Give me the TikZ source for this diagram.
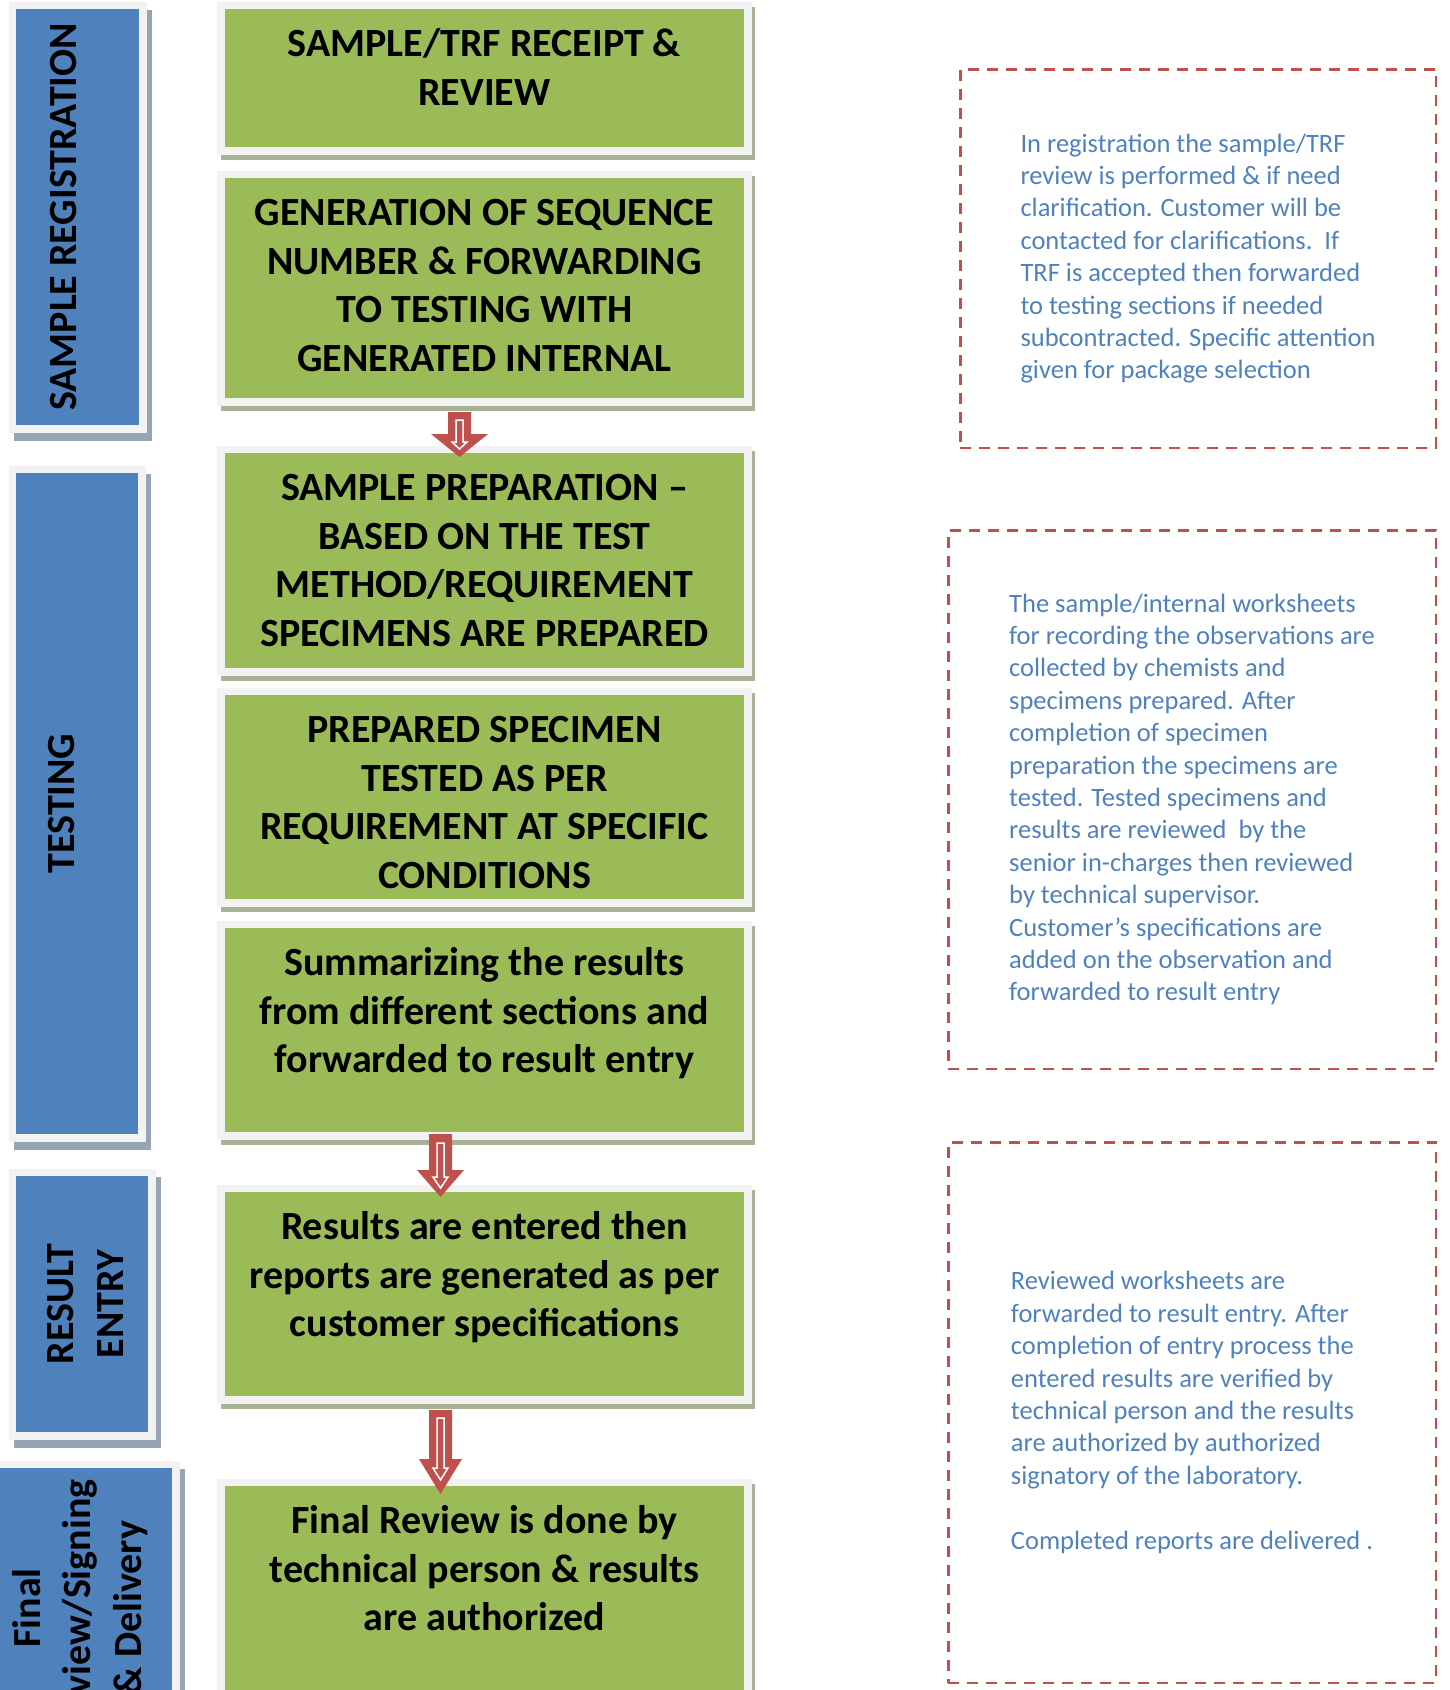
\documentclass[tikz,border=0pt]{standalone}
\usepackage{fontspec}
\setmainfont{Carlito}
\definecolor{stepgreen}{HTML}{9BBB59}
\definecolor{laneblue}{HTML}{4F81BD}
\definecolor{framegray}{HTML}{F2F2F2}
\definecolor{greenshadow}{HTML}{A7B296}
\definecolor{blueshadow}{HTML}{97A4B8}
\definecolor{notered}{HTML}{C0504D}
\definecolor{noteblue}{HTML}{4F81BD}
\tikzset{
  stepbox/.style={rectangle, fill=stepgreen, draw=framegray, line width=7.5pt,
    minimum width=527pt,
    preaction={draw=greenshadow, fill=greenshadow, transform canvas={xshift=3.5pt, yshift=-5pt}}},
  lanebox/.style={rectangle, fill=laneblue, draw=framegray, line width=7.5pt,
    preaction={draw=blueshadow, fill=blueshadow, transform canvas={xshift=5pt, yshift=-8pt}}},
  steptext/.style={align=center, inner sep=0, font=\fontsize{40pt}{48.6pt}\selectfont\bfseries},
  lanetext/.style={align=center, inner sep=0, rotate=90, font=\fontsize{40pt}{50.5pt}\selectfont\bfseries},
  notebox/.style={rectangle, draw=notered, line width=2.5pt, dash pattern=on 11pt off 8pt,
    text=noteblue, align=left, font=\fontsize{26.5pt}{32.4pt}\selectfont},
  flowarrow/.style={fill=notered},
  flowinner/.style={draw=white, line width=1.5pt}
}
\begin{document}
\begin{tikzpicture}[x=1pt, y=-1pt]
  \useasboundingbox (0,0) rectangle (1450,1690);
  \clip (0,0) rectangle (1450,1690);

  % lanes
  \node[lanebox, minimum width=130.5pt, minimum height=423.5pt] (lreg) at (77.5,217) {};
  \node[lanebox, minimum width=129.5pt, minimum height=668.5pt] (ltest) at (77,803.5) {};
  \node[lanebox, minimum width=139.5pt, minimum height=263.5pt] (lentry) at (82,1304) {};
  \node[lanebox, minimum width=187.5pt, minimum height=299.5pt] (lfinal) at (82,1614) {};

  % base = last line
  \node[lanetext, anchor=base] (lregtxt) at (76,217) {SAMPLE REGISTRATION};
  \node[lanetext, anchor=base] (ltesttxt) at (74,803.5) {TESTING};
  \node[lanetext, anchor=base] (lentrytxt) at (123.5,1304) {RESULT\\ENTRY};
  \node[lanetext, anchor=base] (lfinaltxt) at (141,1608) {Final\\Review/Signing\\\& Delivery};

  % steps
  \node[stepbox, minimum height=145.5pt] (recv) at (484.5,78) {};
  \node[stepbox, minimum height=227.5pt] (seqno) at (484.5,288) {};
  \node[stepbox, minimum height=222.5pt] (prep) at (484.5,560.5) {};
  \node[stepbox, minimum height=211.5pt] (tested) at (484.5,797) {};
  \node[stepbox, minimum height=211.5pt] (summ) at (484.5,1030) {};
  \node[stepbox, minimum height=211.5pt] (entry) at (484.5,1294) {};
  \node[stepbox, minimum height=281.5pt] (final) at (484.5,1623) {};

  \node[steptext, anchor=base] (recvtxt) at ([yshift=-103.6pt]recv.north)
    {SAMPLE/TRF RECEIPT \&\\REVIEW};
  \node[steptext, anchor=base] (seqnotxt) at ([yshift=-200.8pt]seqno.north)
    {GENERATION OF SEQUENCE\\NUMBER \& FORWARDING\\TO TESTING WITH\\GENERATED INTERNAL};
  \node[steptext, anchor=base] (preptxt) at ([yshift=-200.8pt]prep.north)
    {SAMPLE PREPARATION --\\BASED ON THE TEST\\METHOD/REQUIREMENT\\SPECIMENS ARE PREPARED};
  \node[steptext, anchor=base] (testedtxt) at ([yshift=-200.8pt]tested.north)
    {PREPARED SPECIMEN\\TESTED AS PER\\REQUIREMENT AT SPECIFIC\\CONDITIONS};
  \node[steptext, anchor=base] (summtxt) at ([yshift=-152.2pt]summ.north)
    {Summarizing the results\\from different sections and\\forwarded to result entry};
  \node[steptext, anchor=base] (entrytxt) at ([yshift=-152.2pt]entry.north)
    {Results are entered then\\reports are generated as per\\customer specifications};
  \node[steptext, anchor=base] (finaltxt) at ([yshift=-152.2pt]final.north)
    {Final Review is done by\\technical person \& results\\are authorized};

  % block arrows
  \coordinate (a1) at ([xshift=-25pt, yshift=-6.5pt]seqno.south);
  \coordinate (a2) at ([xshift=-44pt, yshift=5.5pt]summ.south);
  \coordinate (a3) at ([xshift=-44pt, yshift=-6.5pt]entry.south);
  \fill[flowarrow] (a1) ++(-11.5,0) -- ++(0,22) -- ++(-17,0) -- ++(28.5,23) -- ++(28.5,-23) -- ++(-17,0) -- ++(0,-22) -- cycle;
  \draw[flowinner] (a1) ++(-3.5,8) -- ++(0,22) -- ++(-4,0) -- ++(7.5,7) -- ++(7.5,-7) -- ++(-4,0) -- ++(0,-22) -- cycle;
  \fill[flowarrow] (a2) ++(-11.5,0) -- ++(0,36) -- ++(-12,0) -- ++(23.5,27) -- ++(23.5,-27) -- ++(-12,0) -- ++(0,-36) -- cycle;
  \draw[flowinner] (a2) ++(-3.5,9) -- ++(0,34) -- ++(-4,0) -- ++(7.5,11) -- ++(7.5,-11) -- ++(-4,0) -- ++(0,-34) -- cycle;
  \fill[flowarrow] (a3) ++(-11.5,0) -- ++(0,49) -- ++(-10,0) -- ++(21.5,35) -- ++(21.5,-35) -- ++(-10,0) -- ++(0,-49) -- cycle;
  \draw[flowinner] (a3) ++(-3.5,8) -- ++(0,50) -- ++(-4,0) -- ++(7.5,12) -- ++(7.5,-12) -- ++(-4,0) -- ++(0,-50) -- cycle;

  % notes
  \node[notebox, minimum width=475.5pt, minimum height=378.5pt] (nreg) at (1198,258.5)
    {In registration the sample/TRF\\
     review is performed \& if need\\
     clarification. Customer will be\\
     contacted for clarifications.~~If\\
     TRF is accepted then forwarded\\
     to testing sections if needed\\
     subcontracted. Specific attention\\
     given for package selection};
  \node[notebox, minimum width=487.5pt, minimum height=538.5pt] (ntest) at (1192,799.5)
    {The sample/internal worksheets\\
     for recording the observations are\\
     collected by chemists and\\
     specimens prepared. After\\
     completion of specimen\\
     preparation the specimens are\\
     tested. Tested specimens and\\
     results are reviewed~~by the\\
     senior in-charges then reviewed\\
     by technical supervisor.\\
     Customer’s specifications are\\
     added on the observation and\\
     forwarded to result entry};
  \node[notebox, minimum width=487.5pt, minimum height=540.5pt] (nentry) at (1192,1412.5)
    {Reviewed worksheets are\\
     forwarded to result entry. After\\
     completion of entry process the\\
     entered results are verified by\\
     technical person and the results\\
     are authorized by authorized\\
     signatory of the laboratory.\\[32.4pt]
     Completed reports are delivered .};
\end{tikzpicture}
\end{document}
